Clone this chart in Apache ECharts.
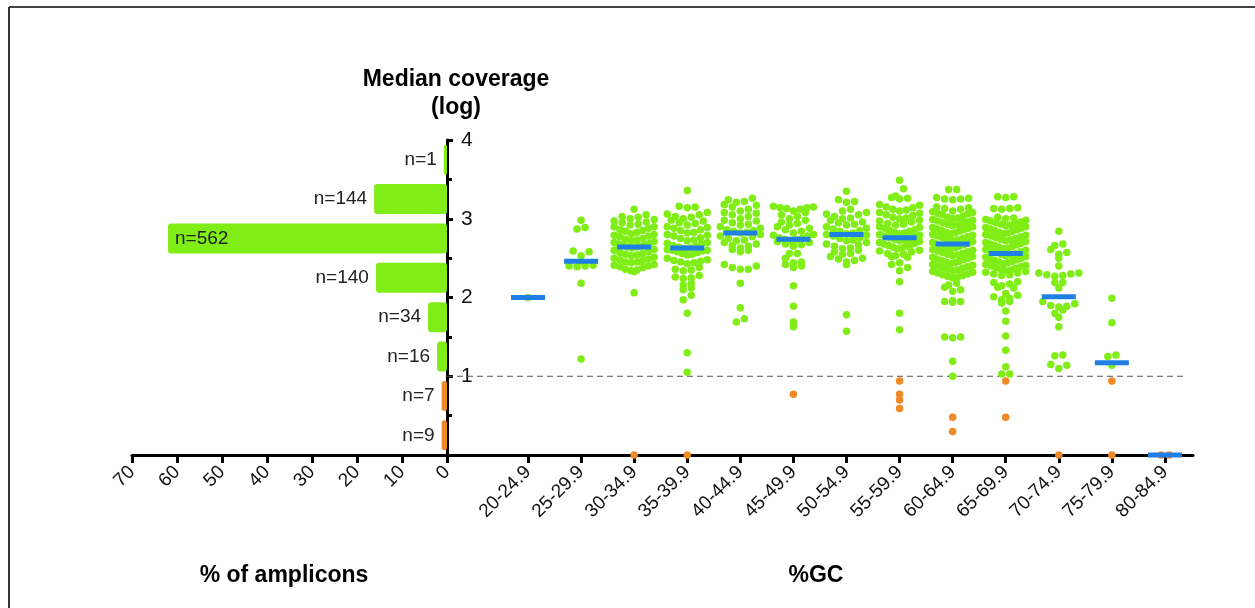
<!DOCTYPE html>
<html>
<head>
<meta charset="utf-8">
<script src="https://cdn.jsdelivr.net/npm/echarts@6/dist/echarts.min.js"></script>
<style>
  html, body { margin: 0; padding: 0; background: #fff; }
  #chart { width: 1255px; height: 608px; }
</style>
</head>
<body>
<div id="chart"></div>
<script>
// left panel: % of amplicons per median coverage bin (bottom -> top)
const coverageBins = ['0-0.5', '0.5-1', '1-1.5', '1.5-2', '2-2.5', '2.5-3', '3-3.5', '3.5-4'];
const ampliconPct = [1.2, 1.2, 2.2, 4.2, 15.8, 62.0, 16.2, 0.7];
const ampliconN = ['n=9', 'n=7', 'n=16', 'n=34', 'n=140', 'n=562', 'n=144', 'n=1'];
const lowBins = 2; // first two bins are below 1 (orange)

// right panel: %GC bins
const gcBins = ['20-24.9', '25-29.9', '30-34.9', '35-39.9', '40-44.9', '45-49.9', '50-54.9',
  '55-59.9', '60-64.9', '65-69.9', '70-74.9', '75-79.9', '80-84.9'];

// log median coverage of each amplicon (>= 1)
const gc20 = [2.0];
const gc25 = [2.98, 2.89, 2.87, 2.59, 2.58, 2.53, 2.46, 2.41, 2.40, 2.40, 2.39, 2.18, 1.22];
const gc30 = [3.12, 3.05, 3.03, 3.02, 3.0, 2.99, 2.97, 2.96, 2.95, 2.93, 2.92, 2.9, 2.9, 2.88, 2.86,
  2.85, 2.84, 2.83, 2.81, 2.8, 2.79, 2.78, 2.77, 2.75, 2.74, 2.73, 2.72, 2.71, 2.7, 2.69, 2.68, 2.67,
  2.66, 2.65, 2.64, 2.64, 2.63, 2.61, 2.6, 2.58, 2.57, 2.56, 2.55, 2.54, 2.53, 2.51, 2.5, 2.49, 2.48,
  2.47, 2.45, 2.45, 2.44, 2.42, 2.41, 2.4, 2.39, 2.38, 2.36, 2.35, 2.34, 2.33, 2.06];
const gc35 = [3.36, 3.16, 3.15, 3.14, 3.08, 3.06, 3.05, 3.03, 3.02, 3.0, 2.98, 2.97, 2.95, 2.94, 2.92,
  2.9, 2.89, 2.88, 2.86, 2.85, 2.83, 2.82, 2.8, 2.79, 2.78, 2.76, 2.75, 2.73, 2.72, 2.7, 2.69, 2.68,
  2.66, 2.65, 2.64, 2.63, 2.62, 2.61, 2.6, 2.6, 2.59, 2.58, 2.57, 2.56, 2.55, 2.54, 2.5, 2.48, 2.47,
  2.46, 2.45, 2.44, 2.43, 2.38, 2.36, 2.35, 2.34, 2.28, 2.26, 2.25, 2.24, 2.18, 2.16, 2.12, 2.1, 2.03,
  1.97, 1.8, 1.3, 1.05];
const gc40 = [3.26, 3.24, 3.22, 3.21, 3.18, 3.17, 3.15, 3.12, 3.1, 3.08, 3.07, 3.05, 3.03, 3.0, 2.98,
  2.97, 2.95, 2.93, 2.92, 2.9, 2.88, 2.86, 2.85, 2.84, 2.83, 2.82, 2.8, 2.78, 2.77, 2.75, 2.73, 2.72,
  2.7, 2.68, 2.66, 2.65, 2.63, 2.61, 2.6, 2.58, 2.42, 2.4, 2.38, 2.36, 2.36, 2.18, 1.87, 1.73, 1.69];
const gc45 = [3.16, 3.15, 3.14, 3.14, 3.13, 3.12, 3.1, 3.08, 3.05, 3.03, 3.0, 2.98, 2.96, 2.94, 2.92,
  2.9, 2.88, 2.86, 2.84, 2.82, 2.8, 2.79, 2.78, 2.76, 2.75, 2.74, 2.73, 2.72, 2.71, 2.7, 2.68, 2.67,
  2.65, 2.56, 2.56, 2.5, 2.45, 2.44, 2.42, 2.4, 2.38, 2.15, 1.89, 1.69, 1.63];
const gc50 = [3.35, 3.24, 3.22, 3.21, 3.12, 3.1, 3.08, 3.06, 3.05, 3.03, 3.01, 3.0, 2.98, 2.96, 2.95,
  2.93, 2.92, 2.9, 2.88, 2.87, 2.85, 2.84, 2.82, 2.81, 2.8, 2.79, 2.78, 2.76, 2.75, 2.73, 2.72, 2.7,
  2.68, 2.67, 2.65, 2.63, 2.62, 2.6, 2.58, 2.56, 2.55, 2.52, 2.5, 2.49, 2.47, 2.45, 2.42, 1.78, 1.57];
const gc55 = [3.49, 3.38, 3.29, 3.27, 3.26, 3.25, 3.18, 3.17, 3.15, 3.14, 3.12, 3.11, 3.1, 3.08, 3.07,
  3.05, 3.04, 3.02, 3.01, 3.0, 2.98, 2.97, 2.96, 2.94, 2.93, 2.92, 2.9, 2.89, 2.88, 2.86, 2.85, 2.84,
  2.83, 2.82, 2.81, 2.8, 2.79, 2.78, 2.77, 2.76, 2.75, 2.74, 2.73, 2.72, 2.71, 2.7, 2.69, 2.68, 2.67,
  2.66, 2.65, 2.64, 2.63, 2.62, 2.6, 2.59, 2.58, 2.56, 2.55, 2.53, 2.52, 2.51, 2.44, 2.42, 2.38, 2.34,
  2.2, 1.8, 1.59];
const gc60 = [3.37, 3.37, 3.27, 3.26, 3.25, 3.25, 3.24, 3.15, 3.14, 3.13, 3.12, 3.1, 3.09, 3.08, 3.07,
  3.06, 3.05, 3.03, 3.02, 3.01, 3.0, 2.99, 2.98, 2.97, 2.96, 2.95, 2.94, 2.93, 2.92, 2.91, 2.9, 2.89,
  2.88, 2.87, 2.86, 2.85, 2.84, 2.83, 2.82, 2.81, 2.8, 2.79, 2.78, 2.77, 2.76, 2.75, 2.74, 2.73, 2.72,
  2.71, 2.7, 2.69, 2.68, 2.67, 2.66, 2.65, 2.64, 2.63, 2.62, 2.61, 2.6, 2.59, 2.58, 2.57, 2.56, 2.55,
  2.54, 2.53, 2.52, 2.51, 2.5, 2.49, 2.48, 2.47, 2.46, 2.45, 2.44, 2.43, 2.42, 2.41, 2.4, 2.39, 2.38,
  2.37, 2.36, 2.35, 2.34, 2.33, 2.32, 2.31, 2.3, 2.29, 2.28, 2.27, 2.26, 2.25, 2.18, 2.16, 2.13, 2.1,
  2.08, 1.96, 1.95, 1.95, 1.94, 1.5, 1.5, 1.49, 1.19, 1.0];
const gc65 = [3.28, 3.28, 3.27, 3.14, 3.13, 3.13, 3.12, 3.02, 3.01, 3.0, 2.99, 2.98, 2.97, 2.96, 2.95,
  2.94, 2.93, 2.92, 2.91, 2.9, 2.89, 2.88, 2.87, 2.86, 2.85, 2.84, 2.83, 2.82, 2.81, 2.8, 2.79, 2.78,
  2.77, 2.76, 2.75, 2.74, 2.73, 2.72, 2.71, 2.7, 2.69, 2.68, 2.67, 2.66, 2.65, 2.64, 2.63, 2.62, 2.61,
  2.6, 2.59, 2.58, 2.57, 2.56, 2.55, 2.54, 2.53, 2.52, 2.51, 2.5, 2.49, 2.48, 2.47, 2.46, 2.45, 2.44,
  2.43, 2.42, 2.41, 2.4, 2.39, 2.38, 2.37, 2.36, 2.35, 2.34, 2.33, 2.32, 2.31, 2.3, 2.29, 2.28, 2.2,
  2.19, 2.17, 2.15, 2.13, 2.12, 2.05, 2.03, 2.01, 1.99, 1.97, 1.95, 1.93, 1.83, 1.7, 1.51, 1.33, 1.12,
  1.03, 1.03];
const gc70 = [2.84, 2.68, 2.66, 2.61, 2.57, 2.55, 2.5, 2.4, 2.31, 2.29, 2.31, 2.27, 2.3, 2.28, 2.19,
  2.19, 2.12, 1.95, 1.9, 1.89, 1.92, 1.88, 1.84, 1.8, 1.75, 1.63, 1.27, 1.26, 1.14, 1.15, 1.1];
const gc75 = [1.99, 1.68, 1.27, 1.25, 1.14];
const gc80 = [];
const aboveOne = [gc20, gc25, gc30, gc35, gc40, gc45, gc50, gc55, gc60, gc65, gc70, gc75, gc80];

// amplicons below 1 (orange)
const belowOne = [[], [], [0], [0], [], [0.77], [], [0.94, 0.77, 0.7, 0.59], [0.48, 0.3],
  [0.94, 0.48], [0], [0.94, 0], [0, 0]];

const gcMedians = [2.0, 2.46, 2.64, 2.63, 2.82, 2.74, 2.8, 2.76, 2.68, 2.56, 2.01, 1.17, 0];
const cutoff = 1;

const green = '#80ee16';
const orange = '#f08a26';
const blue = '#1f7fe4';
const FONT = '"Liberation Sans", Arial, sans-serif';

// scatter-dot layout: bin into rows, spread each row sideways from the centre
function swarm(values, ci) {
  const rowH = 7.5 / 78.75, step = 8 / 53.1, maxHalf = 20 / 53.1;
  const rows = {};
  values.forEach(v => {
    const r = Math.round(v / rowH);
    (rows[r] = rows[r] || []).push(v);
  });
  const out = [];
  Object.keys(rows).forEach(key => {
    const row = rows[key].slice().sort((a, b) => a - b);
    const k = row.length;
    const sp = k > 1 ? Math.min(step, 2 * maxHalf / (k - 1)) : 0;
    row.forEach((v, i) => {
      let slot;
      if (k % 2 === 1) slot = i === 0 ? 0 : (i % 2 === 1 ? (i + 1) / 2 : -i / 2);
      else slot = i % 2 === 0 ? -(i / 2 + 0.5) : (i - 1) / 2 + 0.5;
      out.push([ci + slot * sp, v]);
    });
  });
  return out;
}

const greenPts = [];
const orangePts = [];
aboveOne.forEach((vals, i) => greenPts.push(...swarm(vals, i)));
belowOne.forEach((vals, i) => orangePts.push(...swarm(vals, i)));

const xMin = -1.526, xMax = 12.528;

const chart = echarts.init(document.getElementById('chart'));

const axisBlack = { show: true, lineStyle: { color: '#000', width: 3 } };
const tickBlack = { show: true, length: 8, lineStyle: { width: 3, color: '#000' } };

chart.setOption({
  animation: false,
  textStyle: { fontFamily: FONT },
  grid: [
    { left: 132, top: 140, width: 315, height: 315 },
    { left: 447, top: 140, width: 746, height: 315 }
  ],
  xAxis: [
    {
      gridIndex: 0, type: 'value', min: 0, max: 70, interval: 10, inverse: true,
      axisLine: axisBlack,
      axisTick: tickBlack,
      axisLabel: { rotate: 45, fontSize: 19, color: '#111', margin: 14, fontFamily: FONT },
      splitLine: { show: false }
    },
    {
      gridIndex: 1, type: 'value', min: xMin, max: xMax,
      axisLine: axisBlack,
      axisTick: Object.assign({ customValues: gcBins.map((_, i) => i) }, tickBlack),
      axisLabel: { rotate: 45, fontSize: 19, color: '#111', margin: 14, fontFamily: FONT,
        customValues: gcBins.map((_, i) => i),
        formatter: v => gcBins[Math.round(v)] },
      splitLine: { show: false }
    }
  ],
  yAxis: [
    { gridIndex: 0, type: 'category', data: coverageBins, show: false },
    {
      gridIndex: 0, type: 'value', min: 0, max: 4, interval: 1, position: 'right',
      axisLine: axisBlack,
      axisTick: { show: true, length: 6, lineStyle: { width: 3, color: '#000' } },
      minorTick: { show: true, splitNumber: 2, length: 5, lineStyle: { width: 3, color: '#000' } },
      axisLabel: { fontSize: 21, color: '#111', margin: 14, fontFamily: FONT,
        formatter: v => (v === 0 ? '' : String(v)) },
      splitLine: { show: false }
    },
    { gridIndex: 1, type: 'value', min: 0, max: 4, show: false }
  ],
  graphic: [
    { type: 'line', shape: { x1: 9, y1: 7, x2: 1255, y2: 7 }, style: { stroke: '#444', lineWidth: 2 } },
    { type: 'line', shape: { x1: 9, y1: 7, x2: 9, y2: 608 }, style: { stroke: '#333', lineWidth: 2 } },
    { type: 'text', x: 456, y: 66, style: { text: 'Median coverage\n(log)', textAlign: 'center',
      font: 'bold 23px ' + FONT, lineHeight: 28, fill: '#000' } },
    { type: 'text', x: 284, y: 564, style: { text: '% of amplicons', textAlign: 'center',
      font: 'bold 23px ' + FONT, fill: '#000' } },
    { type: 'text', x: 816, y: 564, style: { text: '%GC', textAlign: 'center',
      font: 'bold 23px ' + FONT, fill: '#000' } }
  ],
  series: [
    {
      type: 'bar', xAxisIndex: 0, yAxisIndex: 0, barWidth: 30,
      data: ampliconPct.map((v, i) => ({
        value: v,
        itemStyle: { color: i < lowBins ? orange : green, borderRadius: 3 },
        label: {
          show: true,
          position: v > 40 ? 'insideLeft' : 'left',
          distance: 7,
          formatter: () => ampliconN[i],
          fontSize: 19, color: '#222', fontFamily: FONT
        }
      }))
    },
    {
      type: 'line', xAxisIndex: 1, yAxisIndex: 2, symbol: 'none', silent: true,
      data: [[xMin, cutoff], [12.34, cutoff]],
      lineStyle: { color: '#555', width: 1, type: [6, 4] }, z: 1
    },
    {
      type: 'scatter', xAxisIndex: 1, yAxisIndex: 2, symbolSize: 7.5, clip: false,
      data: greenPts, itemStyle: { color: green, opacity: 1 }, z: 3
    },
    {
      type: 'scatter', xAxisIndex: 1, yAxisIndex: 2, symbolSize: 7.5, clip: false,
      data: orangePts, itemStyle: { color: orange, opacity: 1 }, z: 4
    },
    {
      type: 'scatter', xAxisIndex: 1, yAxisIndex: 2, symbol: 'rect', symbolSize: [34, 5], clip: false,
      data: gcMedians.map((m, i) => [i, m]), itemStyle: { color: blue, opacity: 1 }, z: 5
    }
  ]
});
</script>
</body>
</html>
